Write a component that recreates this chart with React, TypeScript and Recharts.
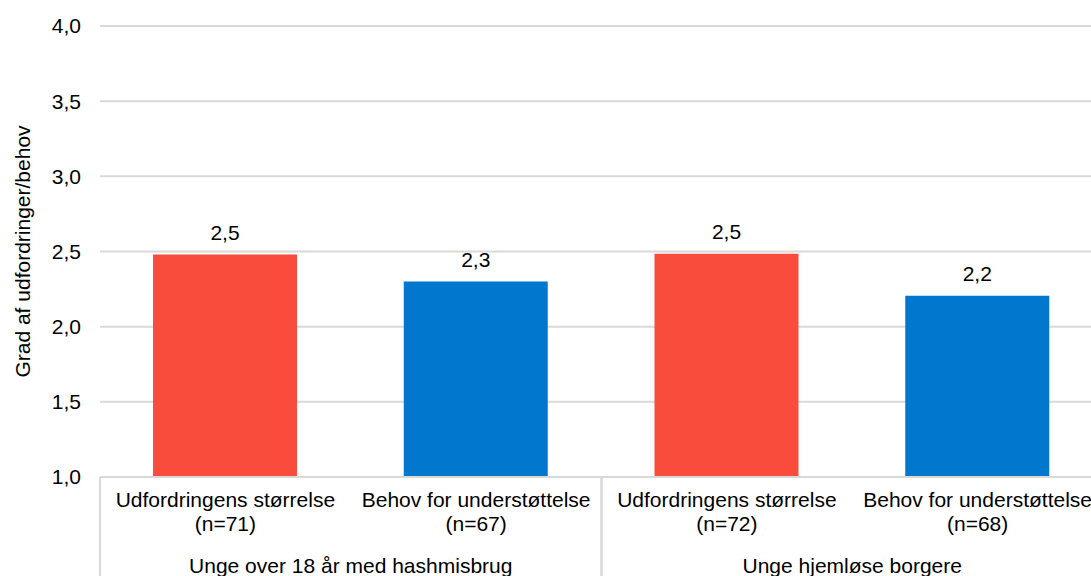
import React from "react";
import { BarChart, Bar, XAxis, YAxis, CartesianGrid, LabelList, Cell, Label } from "recharts";

const categories = ["Udfordringens størrelse", "Behov for understøttelse", "Udfordringens størrelse", "Behov for understøttelse"];
const sampleSizes = ["(n=71)", "(n=67)", "(n=72)", "(n=68)"];
const groups = ["Unge over 18 år med hashmisbrug", "Unge over 18 år med hashmisbrug", "Unge hjemløse borgere", "Unge hjemløse borgere"];
const values = [2.48, 2.3, 2.485, 2.205];
const barColors = ["#F94C3D", "#0277CE", "#F94C3D", "#0277CE"];
const yTicks = [1, 1.5, 2, 2.5, 3, 3.5, 4];
const yLabel = "Grad af udfordringer/behov";

const data = categories.map((c, i) => ({ key: `c${i}`, name: c, n: sampleSizes[i], group: groups[i], value: values[i] }));

const FONT = "'Liberation Sans', Arial, sans-serif";
const FS = 21;
const GRID = "#D9D9D9";

const fmt = (v: number) => v.toFixed(1).replace(".", ",");

const CategoryTick = (props: any) => {
  const { x, y, payload, index } = props;
  const half = payload.offset || 0;
  const d = data[index];
  const axisY = y - 8;
  const isFirstInGroup = index === 0 || d.group !== data[index - 1].group;
  const isLastInGroup = index === data.length - 1 || d.group !== data[index + 1].group;
  return (
    <g>
      <text x={x} y={axisY + 30} textAnchor="middle" fontFamily={FONT} fontSize={FS} fill="#000">{d.name}</text>
      <text x={x} y={axisY + 54} textAnchor="middle" fontFamily={FONT} fontSize={FS} fill="#000">{d.n}</text>
      {isFirstInGroup && (
        <line x1={x - half} x2={x - half} y1={axisY} y2={axisY + 110} stroke={GRID} strokeWidth={2} />
      )}
      {isLastInGroup && (
        <line x1={x + half} x2={x + half} y1={axisY} y2={axisY + 110} stroke={GRID} strokeWidth={2} />
      )}
      {isFirstInGroup && (
        <text x={x + half} y={axisY + 96} textAnchor="middle" fontFamily={FONT} fontSize={FS} fill="#000">{d.group}</text>
      )}
    </g>
  );
};

const YLabelContent = (props: any) => {
  const vb = props.viewBox || {};
  const cx = (vb.x || 0) + 22;
  const cy = (vb.y || 0) + (vb.height || 0) / 2;
  return (
    <text x={cx} y={cy} transform={`rotate(-90, ${cx}, ${cy})`} textAnchor="middle" dominantBaseline="central" fontFamily={FONT} fontSize={FS} fill="#000">
      {yLabel}
    </text>
  );
};

export default function App() {
  return (
    <div style={{ position: "absolute", left: 0, top: 0, width: 1091, height: 576, overflow: "hidden", background: "#fff" }}>
      <BarChart width={1103} height={576} data={data} margin={{ top: 26, right: 0, bottom: 0, left: 0 }} barSize={144}>
        <CartesianGrid vertical={false} stroke={GRID} strokeWidth={2} />
        <XAxis dataKey="key" interval={0} axisLine={{ stroke: GRID, strokeWidth: 2 }} tickLine={false} height={99} tick={<CategoryTick />} />
        <YAxis
          domain={[1, 4]}
          ticks={yTicks}
          allowDataOverflow
          axisLine={false}
          tickLine={false}
          width={100}
          tickMargin={13}
          tickFormatter={fmt}
          tick={{ fontFamily: FONT, fontSize: FS, fill: "#000" }}
        >
          <Label content={<YLabelContent />} />
        </YAxis>
        <Bar dataKey="value" isAnimationActive={false}>
          {data.map((d, i) => (
            <Cell key={d.key} fill={barColors[i]} />
          ))}
          <LabelList dataKey="value" position="top" offset={15} formatter={(v: any) => fmt(Number(v))} style={{ fontFamily: FONT, fontSize: FS, fill: "#000" }} />
        </Bar>
      </BarChart>
    </div>
  );
}
